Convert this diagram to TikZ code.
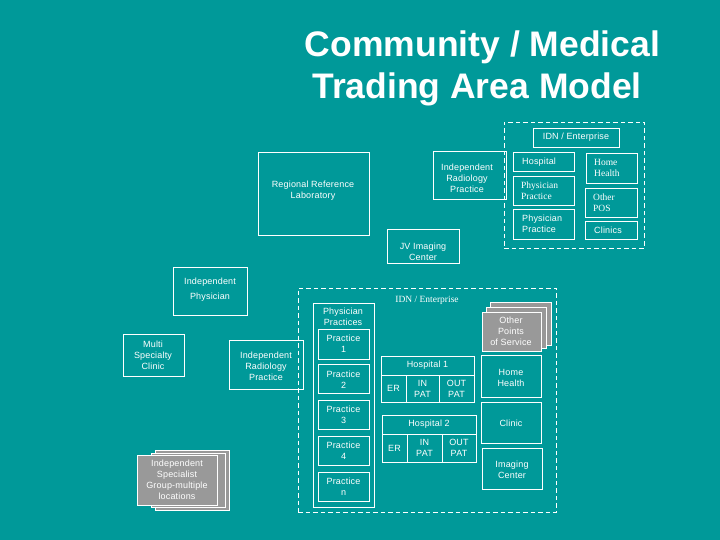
\documentclass[tikz,border=0pt]{standalone}
\usepackage{fontspec}
\setmainfont{Liberation Sans}
\newfontfamily\sansf[LetterSpace=2]{Liberation Sans}
\newfontfamily\serf{Liberation Serif}
\definecolor{teal0}{RGB}{0,153,153}
\definecolor{gfill}{RGB}{153,153,153}
\newcommand\rbox[6][]{%
  \node[box,#1,minimum width={(#5-#3)*1pt},minimum height={(#6-#4)*1pt}] (#2) at ({(#3+#5)/2},{(#4+#6)/2}) {};}
\newcommand\cbox[7][]{%
  \node[box,lbl,#1,minimum width={(#5-#3)*1pt},minimum height={(#6-#4)*1pt}] (#2) at ({(#3+#5)/2},{(#4+#6)/2}) {#7};}
\tikzset{
  box/.style={draw=white, line width=0.9pt, inner sep=0pt, outer sep=0pt},
  gbox/.style={fill=gfill},
  dbox/.style={dash pattern=on 4.5pt off 3pt},
  lbl/.style={text=white, align=center, font=\sansf\fontsize{9}{11}\selectfont, inner sep=0pt},
  slbl/.style={lbl, font=\serf\fontsize{9.5}{11}\selectfont},
  ttl/.style={text=white, anchor=base, inner sep=0pt, font=\bfseries\fontsize{35.5}{41}\selectfont},
}
\begin{document}
\begin{tikzpicture}[x=1pt,y=-1pt]
\useasboundingbox (0,0) rectangle (720,540);
\fill[teal0] (0,0) rectangle (720,540);
% title
\node[ttl] (title1) at (482.5,57) {Community / Medical};
\node[ttl] (title2) at (477,99) {Trading Area Model};
% top IDN enterprise
\rbox[dbox]{idnTop}{504}{122}{644}{248}
\cbox{idnTopLbl}{533}{128}{619}{147}{IDN / Enterprise}
\rbox{hospA}{513}{152}{574}{171}
\node[lbl,anchor=west] (hospAt) at (522,162) {Hospital};
\rbox{physA}{513}{176}{574}{205}
\node[slbl,anchor=west,align=left] (physAt) at (521,190.5) {Physician\\Practice};
\rbox{physB}{513}{209}{574}{239}
\node[lbl,anchor=west,align=left] (physBt) at (522,224) {Physician\\Practice};
\rbox{homeA}{586}{153}{637}{183}
\node[slbl,anchor=west,align=left] (homeAt) at (594,168) {Home\\Health};
\rbox{otherPOS}{585}{188}{637}{217}
\node[slbl,anchor=west,align=left] (otherPOSt) at (593,202.5) {Other\\POS};
\rbox{clinics}{585}{221}{637}{239}
\node[lbl,anchor=west] (clinicst) at (594,230) {Clinics};
% upper free boxes
\rbox{reglab}{258}{152}{369}{235}
\node[lbl] (reglabt) at (313,191) {Regional Reference\\Laboratory};
\rbox{radTop}{433}{151}{506}{199}
\node[lbl] (radTopt) at (467,178) {Independent\\Radiology\\Practice};
\rbox{jv}{387}{229}{459}{263}
\node[lbl] (jvt) at (423,251.5) {JV Imaging\\Center};
\rbox{indPhys}{173}{267}{247}{315}
\node[lbl,font=\sansf\fontsize{9}{15}\selectfont] (indPhyst) at (210,289.5) {Independent\\Physician};
\rbox{multi}{123}{334}{184}{376}
\node[lbl] (multit) at (153,355) {Multi\\Specialty\\Clinic};
% bottom IDN enterprise
\rbox[dbox]{idnBot}{298}{288}{556}{512}
\node[slbl] (idnBotLbl) at (427,300) {IDN / Enterprise};
\rbox{radMid}{229}{340}{303}{389}
\node[lbl] (radMidt) at (266,366) {Independent\\Radiology\\Practice};
\rbox{physPr}{313}{303}{374}{507}
\node[lbl] (physPrt) at (343,317) {Physician\\Practices};
\rbox{pr1}{318}{329}{369}{359}
\node[lbl] (pr1t) at (343.5,343.5) {Practice\\1};
\rbox{pr2}{318}{364}{369}{393}
\node[lbl] (pr2t) at (343.5,379.5) {Practice\\2};
\rbox{pr3}{318}{400}{369}{429}
\node[lbl] (pr3t) at (343.5,415) {Practice\\3};
\rbox{pr4}{318}{436}{369}{465}
\node[lbl] (pr4t) at (343.5,450.5) {Practice\\4};
\rbox{prn}{318}{472}{369}{501}
\node[lbl] (prnt) at (343.5,486.5) {Practice\\n};
% hospital 1
\cbox{h1head}{381}{356}{474}{375}{Hospital 1}
\cbox{h1er}{381}{375}{406}{402}{ER}
\cbox{h1in}{406}{375}{439}{402}{IN\\PAT}
\cbox{h1out}{439}{375}{474}{402}{OUT\\PAT}
% hospital 2
\cbox{h2head}{382}{415}{476}{434}{Hospital 2}
\cbox{h2er}{382}{434}{407}{462}{ER}
\cbox{h2in}{407}{434}{442}{462}{IN\\PAT}
\cbox{h2out}{442}{434}{476}{462}{OUT\\PAT}
% other points of service
\rbox[gbox]{ops3}{490}{302}{551}{345}
\rbox[gbox]{ops2}{486}{307}{546}{348}
\rbox[gbox]{ops1}{482}{312}{541}{351}
\node[lbl] (opst) at (511,331.5) {Other\\Points\\of Service};
\rbox{homeB}{481}{355}{541}{397}
\node[lbl] (homeBt) at (511,377.5) {Home\\Health};
\rbox{clinic}{481}{402}{541}{443}
\node[lbl] (clinict) at (511,423) {Clinic};
\rbox{imaging}{482}{448}{542}{489}
\node[lbl] (imagingt) at (512,469.5) {Imaging\\Center};
% independent specialist group
\rbox[gbox]{isg3}{155}{450}{229}{510}
\rbox[gbox]{isg2}{151}{453}{225}{507}
\rbox[gbox]{isg1}{137}{455}{217}{505}
\node[lbl] (isgt) at (177,480) {Independent\\Specialist\\Group-multiple\\locations};
\end{tikzpicture}
\end{document}
